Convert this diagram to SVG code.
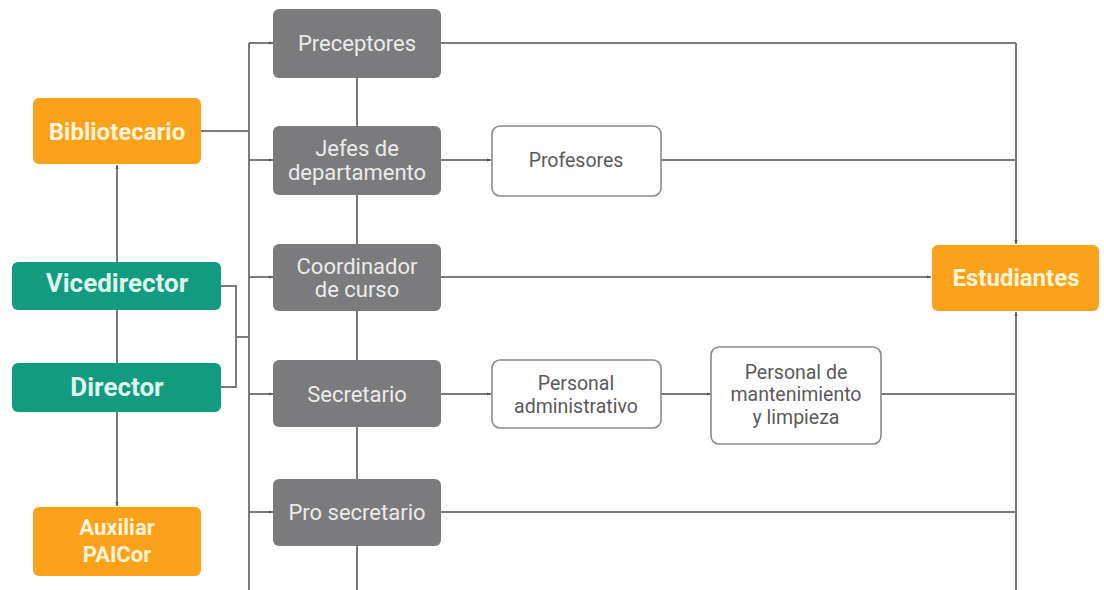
<svg xmlns="http://www.w3.org/2000/svg" width="1104" height="590" viewBox="0 0 1104 590">
<defs>
<style>
.orange{fill:#FBA11A}
.green{fill:#139B80}
.grey{fill:#7B7B7D}
.white{fill:#fff;stroke:#8a8a8a;stroke-width:1.6}
.tb{font-family:Roboto,"Liberation Sans",sans-serif;font-weight:bold;text-anchor:middle}
.tg{font-family:Roboto,"Liberation Sans",sans-serif;font-size:22px;fill:#EBEBEB;text-anchor:middle}
.tw{font-family:Roboto,"Liberation Sans",sans-serif;font-size:19.5px;fill:#5a5a5a;text-anchor:middle}
.ln{fill:none;stroke:#7a7a7a;stroke-width:2}
</style>
<marker id="arr" viewBox="0 0 10 10" refX="10" refY="5" markerWidth="4" markerHeight="4" orient="auto" markerUnits="userSpaceOnUse">
<path d="M0,1 L10,5 L0,9 Z" fill="#555"/>
</marker>
</defs>
<rect width="1104" height="590" fill="#fff"/>
<g id="connectors">
<path class="ln" d="M249,43 V590"/>
<path class="ln" d="M357,78 V590"/>
<path class="ln" d="M1016,43 V244" marker-end="url(#arr)"/>
<path class="ln" d="M1016,590 V312" marker-end="url(#arr)"/>
<path class="ln" d="M249,43 H273" marker-end="url(#arr)"/>
<path class="ln" d="M249,160 H273" marker-end="url(#arr)"/>
<path class="ln" d="M249,277 H273" marker-end="url(#arr)"/>
<path class="ln" d="M249,394 H273" marker-end="url(#arr)"/>
<path class="ln" d="M249,512 H273" marker-end="url(#arr)"/>
<path class="ln" d="M201,131 H249"/>
<path class="ln" d="M221,286 H236 V387 H221"/>
<path class="ln" d="M236,337 H249"/>
<path class="ln" d="M117,262 V165" marker-end="url(#arr)"/>
<path class="ln" d="M117,310 V363"/>
<path class="ln" d="M117,412 V506" marker-end="url(#arr)"/>
<path class="ln" d="M441,43 H1016"/>
<path class="ln" d="M441,160 H491" marker-end="url(#arr)"/>
<path class="ln" d="M661,160 H1016"/>
<path class="ln" d="M441,277 H931" marker-end="url(#arr)"/>
<path class="ln" d="M441,394 H491" marker-end="url(#arr)"/>
<path class="ln" d="M661,394 H711" marker-end="url(#arr)"/>
<path class="ln" d="M881,394 H1016"/>
<path class="ln" d="M441,512 H1016"/>
</g>
<g id="bibliotecario"><rect class="orange" x="33" y="98" width="168" height="66" rx="6"/><text class="tb" x="117" y="140" font-size="24" fill="#FFF4D6">Bibliotecario</text></g>
<g id="vicedirector"><rect class="green" x="12" y="262" width="209" height="48" rx="6"/><text class="tb" x="117" y="292" font-size="26" fill="#DDF7EE">Vicedirector</text></g>
<g id="director"><rect class="green" x="12" y="363" width="209" height="49" rx="6"/><text class="tb" x="117" y="396" font-size="26" fill="#DDF7EE">Director</text></g>
<g id="auxiliar"><rect class="orange" x="33" y="507" width="168" height="69" rx="6"/><text class="tb" x="117" y="535" font-size="22" fill="#FFF4D6">Auxiliar</text><text class="tb" x="117" y="562" font-size="22" fill="#FFF4D6">PAICor</text></g>
<g id="preceptores"><rect class="grey" x="273" y="9" width="168" height="69" rx="6"/><text class="tg" x="357" y="51">Preceptores</text></g>
<g id="jefes"><rect class="grey" x="273" y="126" width="168" height="69" rx="6"/><text class="tg" x="357" y="156">Jefes de</text><text class="tg" x="357" y="180">departamento</text></g>
<g id="coordinador"><rect class="grey" x="273" y="244" width="168" height="67" rx="6"/><text class="tg" x="357" y="274">Coordinador</text><text class="tg" x="357" y="297">de curso</text></g>
<g id="secretario"><rect class="grey" x="273" y="360" width="168" height="67" rx="6"/><text class="tg" x="357" y="402">Secretario</text></g>
<g id="prosecretario"><rect class="grey" x="273" y="479" width="168" height="67" rx="6"/><text class="tg" x="357" y="520">Pro secretario</text></g>
<g id="profesores"><rect class="white" x="492" y="126" width="169" height="70" rx="8"/><text class="tw" x="576" y="167">Profesores</text></g>
<g id="personal-adm"><rect class="white" x="492" y="360" width="169" height="68" rx="8"/><text class="tw" x="576" y="390">Personal</text><text class="tw" x="576" y="413">administrativo</text></g>
<g id="personal-mant"><rect class="white" x="711" y="347" width="170" height="97" rx="8"/><text class="tw" x="796" y="379">Personal de</text><text class="tw" x="796" y="401">mantenimiento</text><text class="tw" x="796" y="424">y limpieza</text></g>
<g id="estudiantes"><rect class="orange" x="932" y="245" width="167" height="66" rx="6"/><text class="tb" x="1016" y="286" font-size="24" fill="#FFF4D6">Estudiantes</text></g>
</svg>
